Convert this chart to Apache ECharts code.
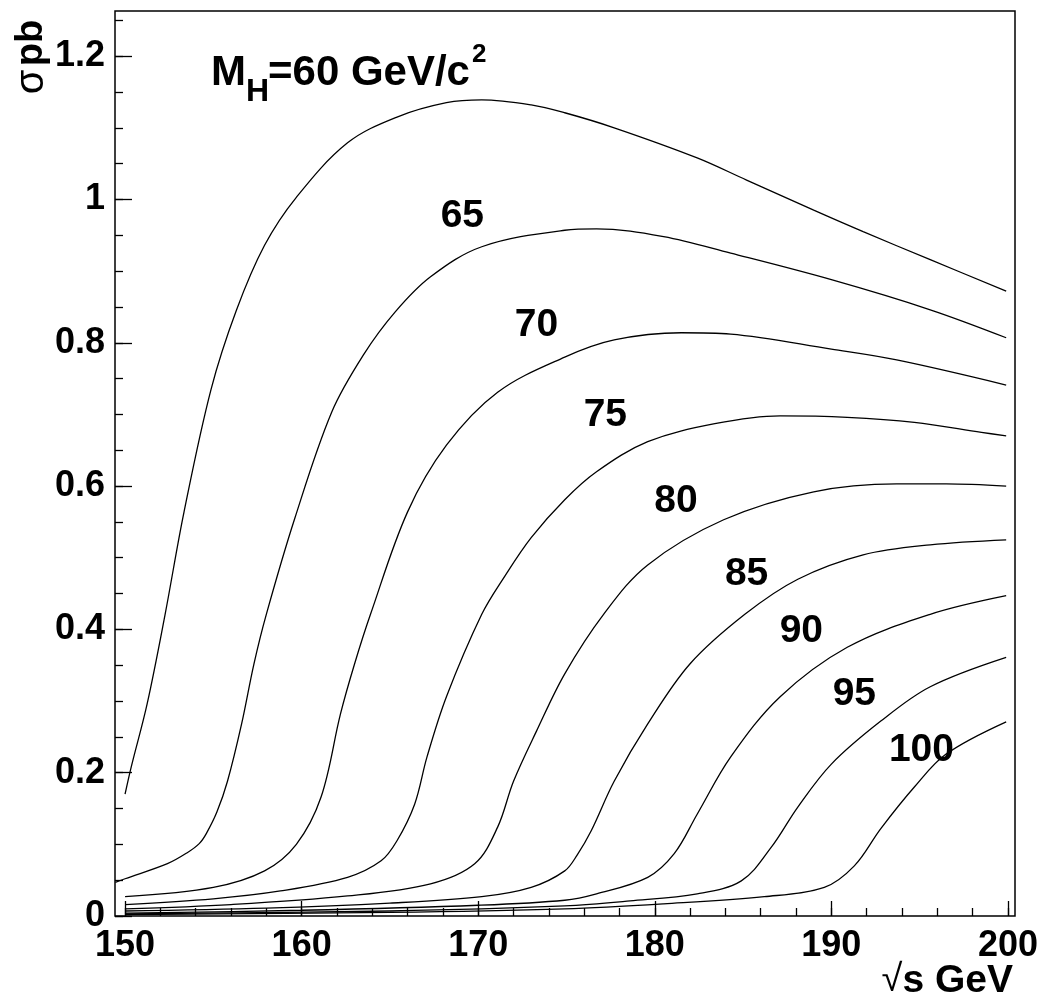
<!DOCTYPE html>
<html>
<head>
<meta charset="utf-8">
<script src="https://cdn.jsdelivr.net/npm/echarts@6.0.0/dist/echarts.min.js"></script>
<style>
  html, body { margin: 0; padding: 0; background: #fff; }
  #chart { width: 1046px; height: 1003px; }
</style>
</head>
<body>
<div id="chart"></div>
<script>
// Higgs production cross section vs sqrt(s), one curve per Higgs mass
var massLabels = ['60', '65', '70', '75', '80', '85', '90', '95', '100'];

var sqrtS60  = [150, 150.35, 151.25, 152.26, 153.34, 154.87, 156.3, 157.9, 159.7, 162.6, 165.4, 168.2, 170.2, 173.0, 174.9, 177.7, 182.4, 185.2, 189.0, 191.8, 195.6, 199.9];
var sigma60  = [0.170, 0.208, 0.296, 0.420, 0.564, 0.735, 0.845, 0.936, 1.003, 1.079, 1.115, 1.135, 1.139, 1.132, 1.121, 1.100, 1.058, 1.027, 0.985, 0.955, 0.916, 0.872];

var sqrtS65  = [149.45, 150, 152.4, 153.5, 154.2, 154.6, 155.2, 155.8, 156.6, 157.3, 158.0, 159.6, 161.7, 163.5, 165.3, 167.3, 170.2, 174.9, 176.7, 180.5, 184.3, 190.0, 195.6, 199.9];
var sigma65  = [0.047, 0.052, 0.073, 0.088, 0.101, 0.115, 0.145, 0.188, 0.268, 0.352, 0.421, 0.554, 0.703, 0.783, 0.843, 0.892, 0.934, 0.957, 0.959, 0.948, 0.925, 0.888, 0.846, 0.807];

var sqrtS70  = [150, 155.0, 157.9, 159.7, 161.1, 162.2, 163.0, 163.9, 166.0, 168.2, 171.1, 174.9, 177.7, 181.5, 184.3, 190.0, 193.7, 199.9];
var sigma70  = [0.027, 0.040, 0.063, 0.100, 0.166, 0.282, 0.352, 0.421, 0.564, 0.657, 0.731, 0.780, 0.804, 0.814, 0.812, 0.791, 0.776, 0.741];

var sqrtS75  = [150, 155, 158.8, 162.6, 164.5, 165.4, 166.4, 167.1, 168.2, 170.2, 171.5, 173.0, 174.9, 176.7, 179.6, 183.4, 187.1, 190.9, 194.7, 198.5, 199.9];
var sigma75  = [0.016, 0.024, 0.035, 0.054, 0.077, 0.105, 0.156, 0.222, 0.306, 0.421, 0.474, 0.528, 0.581, 0.620, 0.662, 0.687, 0.698, 0.696, 0.689, 0.675, 0.670];

var sqrtS80  = [150, 156, 162.6, 167.3, 169.8, 171.1, 172.0, 173.3, 174.9, 177.1, 179.6, 183.9, 189.0, 193.7, 196.5, 199.9];
var sigma80  = [0.010, 0.016, 0.028, 0.045, 0.073, 0.124, 0.188, 0.258, 0.338, 0.421, 0.490, 0.553, 0.592, 0.603, 0.603, 0.600];

var sqrtS85  = [150, 158, 165, 170.2, 173.0, 174.9, 175.6, 176.4, 177.7, 179.6, 182.0, 185.1, 188.1, 191.8, 195.6, 199.9];
var sigma85  = [0.007, 0.011, 0.018, 0.027, 0.040, 0.063, 0.085, 0.119, 0.188, 0.268, 0.352, 0.421, 0.470, 0.504, 0.518, 0.525];

var sqrtS90  = [150, 160, 170, 174.9, 176.7, 179.6, 181.1, 182.4, 184.3, 187.1, 190.9, 195.6, 199.9];
var sigma90  = [0.004, 0.008, 0.015, 0.022, 0.031, 0.054, 0.087, 0.142, 0.222, 0.306, 0.375, 0.421, 0.447];

var sqrtS95  = [150, 165, 174.9, 178.6, 182.4, 184.9, 186.6, 188.1, 190.0, 192.8, 195.6, 199.9];
var sigma95  = [0.003, 0.007, 0.014, 0.021, 0.031, 0.049, 0.096, 0.152, 0.212, 0.272, 0.320, 0.361];

var sqrtS100 = [150, 165, 174.9, 180.5, 186.2, 189.6, 191.3, 192.8, 194.7, 196.5, 199.9];
var sigma100 = [0.002, 0.005, 0.010, 0.017, 0.027, 0.040, 0.070, 0.122, 0.180, 0.226, 0.271];

// label anchors of the mass values (sqrt(s), sigma)
var labelText  = ['65', '70', '75', '80', '85', '90', '95', '100'];
var labelSqrtS = [169.1, 173.3, 177.2, 181.2, 185.2, 188.3, 191.3, 195.1];
var labelSigma = [0.977, 0.825, 0.699, 0.579, 0.477, 0.398, 0.310, 0.232];

// axis ticks
var xMajor = [150, 160, 170, 180, 190, 200];
var xMinor = [];
for (var v = 150; v <= 200; v += 2) xMinor.push(v);
var yMajor = [0, 0.2, 0.4, 0.6, 0.8, 1, 1.2];
var yMinor = [];
for (var k = 0; k <= 25; k++) yMinor.push(Math.round(k * 5) / 100);

var curves = [
	[sqrtS60, sigma60], [sqrtS65, sigma65], [sqrtS70, sigma70],
	[sqrtS75, sigma75], [sqrtS80, sigma80], [sqrtS85, sigma85],
	[sqrtS90, sigma90], [sqrtS95, sigma95], [sqrtS100, sigma100]
];

var FONT = 'Liberation Sans';
var X_MIN = 149.43, X_MAX = 200.4, Y_MIN = 0, Y_MAX = 1.263;

var chart = echarts.init(document.getElementById('chart'));

var seriesList = [];
curves.forEach(function (c, i) {
	var pts = [];
	for (var j = 0; j < c[0].length; j++) pts.push([c[0][j], c[1][j]]);
	seriesList.push({
		name: 'MH ' + massLabels[i],
		type: 'line',
		data: pts,
		smooth: 0.35,
		showSymbol: false,
		silent: true,
		lineStyle: { color: '#000', width: 1.3 }
	});
});

var labelData = [];
for (var n = 0; n < labelText.length; n++) {
	labelData.push({ name: labelText[n], value: [labelSqrtS[n], labelSigma[n]] });
}
seriesList.push({
	type: 'scatter',
	data: labelData,
	symbolSize: 0,
	silent: true,
	itemStyle: { opacity: 1, color: '#000' },
	label: {
		show: true,
		position: [0, 0],
		align: 'center',
		verticalAlign: 'middle',
		formatter: '{b}',
		color: '#000',
		opacity: 1,
		textBorderWidth: 0,
		fontFamily: FONT,
		fontWeight: 'bold',
		fontSize: 39
	}
});

function tickAxis(values, len, withLabel, pos, isX) {
	return {
		type: 'value',
		position: pos,
		min: isX ? X_MIN : Y_MIN,
		max: isX ? X_MAX : Y_MAX,
		axisLine: { show: false },
		splitLine: { show: false },
		axisTick: {
			show: true,
			inside: true,
			length: len,
			customValues: values,
			lineStyle: { color: '#000', width: 1.3 }
		},
		axisLabel: withLabel ? {
			show: true,
			customValues: values,
			margin: isX ? 12 : 10,
			color: '#000',
			fontFamily: FONT,
			fontWeight: 'bold',
			fontSize: 36
		} : { show: false }
	};
}

var option = {
	animation: false,
	backgroundColor: '#fff',
	grid: {
		left: 115,
		right: 31,
		top: 11,
		bottom: 87,
		show: true,
		borderColor: '#000',
		borderWidth: 1.5,
		outerBoundsMode: 'none'
	},
	xAxis: [
		tickAxis(xMajor, 15, true, 'bottom', true),
		tickAxis(xMinor, 8, false, 'bottom', true)
	],
	yAxis: [
		tickAxis(yMajor, 17, true, 'left', false),
		tickAxis(yMinor, 8, false, 'left', false)
	],
	graphic: [
		{ type: 'text', left: 211, top: 52, style: { text: 'M', fontFamily: FONT, fontWeight: 'bold', fontSize: 42, fill: '#000' } },
		{ type: 'text', left: 246, top: 76, style: { text: 'H', fontFamily: FONT, fontWeight: 'bold', fontSize: 32, fill: '#000' } },
		{ type: 'text', left: 268, top: 52, style: { text: '=60 GeV/c', fontFamily: FONT, fontWeight: 'bold', fontSize: 42, fill: '#000' } },
		{ type: 'text', left: 472, top: 42, style: { text: '2', fontFamily: FONT, fontWeight: 'bold', fontSize: 26, fill: '#000' } },
		{
			type: 'text', x: 32, y: 57, rotation: Math.PI / 2,
			style: {
				text: '{a|σ} {b|pb}', align: 'center', verticalAlign: 'middle',
				rich: {
					a: { fontFamily: FONT, fontWeight: 'normal', fontSize: 40, fill: '#000' },
					b: { fontFamily: FONT, fontWeight: 'bold', fontSize: 38, fill: '#000' }
				}
			}
		},
		{
			type: 'text', x: 1013, y: 981,
			style: {
				text: '{a|√}{b|s GeV}', align: 'right', verticalAlign: 'middle',
				rich: {
					a: { fontFamily: FONT, fontWeight: 'normal', fontSize: 38, fill: '#000' },
					b: { fontFamily: FONT, fontWeight: 'bold', fontSize: 39, fill: '#000' }
				}
			}
		}
	],
	series: seriesList
};

chart.setOption(option);
</script>
</body>
</html>
